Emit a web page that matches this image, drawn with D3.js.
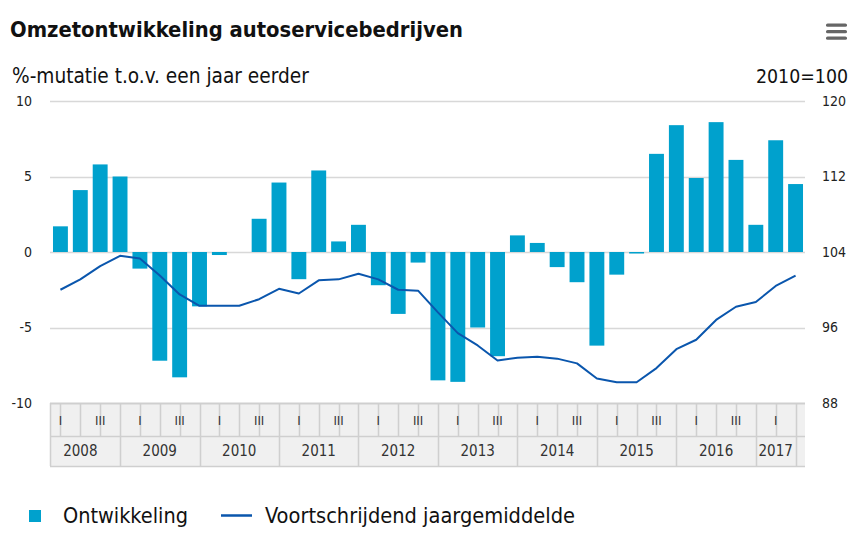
<!DOCTYPE html>
<html>
<head>
<meta charset="utf-8">
<script src="https://cdn.jsdelivr.net/npm/d3@7"></script>
<style>
  html, body { margin: 0; padding: 0; background: #fff; }
  svg { display: block; }
  text { font-family: "DejaVu Sans Condensed", "DejaVu Sans", sans-serif; }
</style>
</head>
<body>
<svg id="chart" width="866" height="540"></svg>
<script>
// data
var years = ["2008", "2009", "2010", "2011", "2012", "2013", "2014", "2015", "2016", "2017"];
var quarterNames = ["I", "II", "III", "IV"];
var quarterCount = [4, 4, 4, 4, 4, 4, 4, 4, 4, 2];

var ontwikkeling = [
  1.7, 4.1, 5.8, 5.0,
  -1.1, -7.2, -8.3, -3.6,
  -0.2, 0.0, 2.2, 4.6,
  -1.8, 5.4, 0.7, 1.8,
  -2.2, -4.1, -0.7, -8.5,
  -8.6, -5.0, -6.9, 1.1,
  0.6, -1.0, -2.0, -6.2,
  -1.5, -0.1, 6.5, 8.4,
  4.9, 8.6, 6.1, 1.8,
  7.4, 4.5
];

var jaargemiddelde = [
  100.0, 101.1, 102.5, 103.6,
  103.3, 101.5, 99.5, 98.3,
  98.3, 98.3, 99.0, 100.1,
  99.6, 101.0, 101.1, 101.7,
  101.1, 100.0, 99.9, 97.6,
  95.4, 94.1, 92.5, 92.8,
  92.9, 92.7, 92.2, 90.6,
  90.2, 90.2, 91.7, 93.7,
  94.7, 96.8, 98.2, 98.7,
  100.4, 101.5
];

var leftTicks = [-10, -5, 0, 5, 10];
var rightTicks = [88, 96, 104, 112, 120];

var barColor = "#00a1cd";
var lineColor = "#0a56ad";

///////////////////////////////////////////////////////////////////////////////
// categories

var cats = [];
years.forEach(function (y, yi) {
  for (var q = 0; q < quarterCount[yi]; q++)
    cats.push({ key: y + "-" + quarterNames[q], year: y, q: q });
});

var svg = d3.select("#chart");

var plotLeft = 50.5, plotRight = 805.5, plotTop = 101, plotBottom = 403;

var x = d3.scaleBand()
  .domain(cats.map(function (c) { return c.key; }))
  .range([plotLeft, plotRight])
  .paddingInner(0.25)
  .paddingOuter(0.125);

var step = x.step();
var center = function (key) { return x(key) + x.bandwidth() / 2; };

var yL = d3.scaleLinear().domain([-10, 10]).range([plotBottom, plotTop]);
var yR = d3.scaleLinear().domain([88, 120]).range([plotBottom, plotTop]);

// fit a text to a measured width by changing its font size
var fit = function (sel, width) {
  var fs = parseFloat(sel.style("font-size"));
  var w = sel.node().getComputedTextLength();
  if (w > 0) sel.style("font-size", (fs * width / w).toFixed(2) + "px");
};

///////////////////////////////////////////////////////////////////////////////
// titles

var title = svg.append("text")
  .attr("x", 10).attr("y", 37)
  .style("font-size", "20px").style("font-weight", "bold")
  .attr("fill", "#111")
  .text("Omzetontwikkeling autoservicebedrijven");
fit(title, 453);

var sub = svg.append("text")
  .attr("x", 12).attr("y", 83)
  .style("font-size", "17px")
  .attr("fill", "#111")
  .text("%-mutatie t.o.v. een jaar eerder");
fit(sub, 297);

var subR = svg.append("text")
  .attr("x", 848).attr("y", 83)
  .attr("text-anchor", "end")
  .style("font-size", "17px")
  .attr("fill", "#111")
  .text("2010=100");
fit(subR, 92);

// menu icon
svg.append("g").selectAll("rect")
  .data([25, 31.5, 38])
  .enter().append("rect")
  .attr("x", 826).attr("y", function (d) { return d - 1.6; })
  .attr("width", 21).attr("height", 3.4).attr("rx", 1.6)
  .attr("fill", "#666");

///////////////////////////////////////////////////////////////////////////////
// grid and axes

svg.append("g").selectAll("line")
  .data(leftTicks.filter(function (t) { return t > -10; }))
  .enter().append("line")
  .attr("x1", 50).attr("x2", 805)
  .attr("y1", function (d) { return Math.round(yL(d)) + 0.5; })
  .attr("y2", function (d) { return Math.round(yL(d)) + 0.5; })
  .attr("stroke", "#d8d8d8").attr("stroke-width", 1.5);

var plain = function (d) { return String(d); };

var axL = svg.append("g")
  .attr("transform", "translate(50,0)")
  .call(d3.axisLeft(yL).tickValues(leftTicks).tickFormat(plain).tickSize(0).tickPadding(18));
var axR = svg.append("g")
  .attr("transform", "translate(805,0)")
  .call(d3.axisRight(yR).tickValues(rightTicks).tickFormat(plain).tickSize(0).tickPadding(17));
[axL, axR].forEach(function (a) {
  a.select(".domain").remove();
  a.selectAll("text")
    .style("font-family", "\"DejaVu Sans Condensed\", \"DejaVu Sans\", sans-serif")
    .style("font-size", "14px")
    .attr("fill", "#222");
});

///////////////////////////////////////////////////////////////////////////////
// bars and line

svg.append("g").selectAll("rect")
  .data(ontwikkeling)
  .enter().append("rect")
  .attr("x", function (d, i) { return x(cats[i].key); })
  .attr("width", x.bandwidth())
  .attr("y", function (d) { return yL(Math.max(0, d)); })
  .attr("height", function (d) { return Math.abs(yL(d) - yL(0)); })
  .attr("fill", barColor);

var line = d3.line()
  .x(function (d, i) { return center(cats[i].key); })
  .y(function (d) { return yR(d); });

svg.append("path")
  .datum(jaargemiddelde)
  .attr("d", line)
  .attr("fill", "none")
  .attr("stroke", lineColor)
  .attr("stroke-width", 2)
  .attr("stroke-linejoin", "round");

///////////////////////////////////////////////////////////////////////////////
// category header (quarters over years)

var hTop = 403, hMid = 436, hBot = 466;
var gridC = "#cfcfcf";
var head = svg.append("g");

head.append("rect")
  .attr("x", 50).attr("y", hTop).attr("width", 755).attr("height", hBot - hTop)
  .attr("fill", "#f0f0f0");

[hTop, hMid, hBot].forEach(function (yy) {
  head.append("line")
    .attr("x1", 50).attr("x2", 805).attr("y1", yy + 0.5).attr("y2", yy + 0.5)
    .attr("stroke", gridC).attr("stroke-width", yy === hTop ? 2 : 1.5);
});

head.append("line")
  .attr("x1", 50.5).attr("x2", 50.5).attr("y1", hTop).attr("y2", hBot)
  .attr("stroke", gridC).attr("stroke-width", 1.5);

// a vertical line through every category centre; a year ends on its last one
head.selectAll("line.q")
  .data(cats)
  .enter().append("line")
  .attr("class", "q")
  .attr("x1", function (c) { return Math.round(center(c.key)) + 0.5; })
  .attr("x2", function (c) { return Math.round(center(c.key)) + 0.5; })
  .attr("y1", hTop)
  .attr("y2", function (c, i) {
    var last = i === cats.length - 1 || cats[i + 1].year !== c.year;
    return last ? hBot : hMid;
  })
  .attr("stroke", gridC).attr("stroke-width", 1.5);

head.selectAll("text.q")
  .data(cats.filter(function (c) { return c.q === 0 || c.q === 2; }))
  .enter().append("text")
  .attr("class", "q")
  .attr("x", function (c) { return center(c.key); })
  .attr("y", 425)
  .attr("text-anchor", "middle")
  .style("font-size", "13px")
  .attr("fill", "#333")
  .text(function (c) { return quarterNames[c.q]; });

head.selectAll("text.y")
  .data(years)
  .enter().append("text")
  .attr("class", "y")
  .attr("x", function (y) {
    var own = cats.filter(function (c) { return c.year === y; });
    var end = center(own[own.length - 1].key);
    var start = center(own[0].key) - step;
    return (start + end) / 2;
  })
  .attr("y", 456)
  .attr("text-anchor", "middle")
  .style("font-size", "15px")
  .attr("fill", "#333")
  .text(function (y) { return y; });

///////////////////////////////////////////////////////////////////////////////
// legend

var lg = svg.append("g");
lg.append("rect")
  .attr("x", 29).attr("y", 510).attr("width", 12).attr("height", 12)
  .attr("fill", barColor);
var l1 = lg.append("text")
  .attr("x", 63).attr("y", 523)
  .style("font-size", "20px").attr("fill", "#111")
  .text("Ontwikkeling");
fit(l1, 125);
lg.append("line")
  .attr("x1", 221).attr("x2", 252).attr("y1", 515.5).attr("y2", 515.5)
  .attr("stroke", lineColor).attr("stroke-width", 2.5);
var l2 = lg.append("text")
  .attr("x", 265).attr("y", 523)
  .style("font-size", "20px").attr("fill", "#111")
  .text("Voortschrijdend jaargemiddelde");
fit(l2, 310);
</script>
</body>
</html>
